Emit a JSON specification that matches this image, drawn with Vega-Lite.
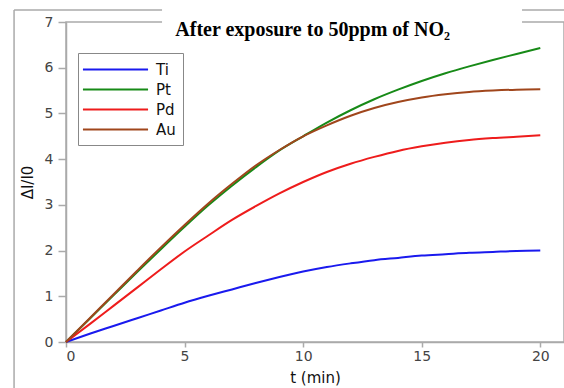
{
  "$schema": "https://vega.github.io/schema/vega-lite/v6.json",
  "width": 498,
  "height": 320,
  "autosize": {"type": "none"},
  "padding": {"left": 66, "top": 22, "right": 0, "bottom": 46},
  "background": "white",
  "config": {
    "view": {"stroke": "#aaaaaa", "strokeWidth": 1.5},
    "axis": {
      "grid": false,
      "domainColor": "#aaaaaa",
      "domainWidth": 1.5,
      "tickColor": "#aaaaaa",
      "tickWidth": 1.5,
      "labelFont": "DejaVu Sans",
      "labelFontSize": 14,
      "labelColor": "#444444",
      "titleFont": "DejaVu Sans",
      "titleFontSize": 15,
      "titleFontWeight": "normal",
      "titleColor": "#111111"
    }
  },
  "layer": [
    {
      "data": {"values": [{}]},
      "mark": {"type": "rule", "color": "#aaaaaa", "strokeWidth": 1.5},
      "encoding": {
        "x": {"datum": -2.19, "type": "quantitative"},
        "y": {"datum": 7.26, "type": "quantitative"},
        "y2": {"datum": -1.1}
      }
    },
    {
      "data": {"values": [{}]},
      "mark": {"type": "rule", "color": "#aaaaaa", "strokeWidth": 1.5},
      "encoding": {
        "x": {"datum": -2.19, "type": "quantitative"},
        "x2": {"datum": 21.2},
        "y": {"datum": 7.26, "type": "quantitative"}
      }
    },
    {
      "data": {"values": [{}]},
      "mark": {"type": "rect", "color": "white"},
      "encoding": {
        "x": {"datum": 4.05, "type": "quantitative"},
        "x2": {"datum": 19.23},
        "y": {"datum": 6.6, "type": "quantitative"},
        "y2": {"datum": 7.7}
      }
    },
    {
      "data": {"values": [{"title": "After exposure to 50ppm of NO₂"}]},
      "mark": {"type": "text", "font": "Liberation Serif", "fontWeight": "bold", "fontSize": 20, "align": "center", "baseline": "alphabetic", "color": "#000000"},
      "encoding": {
        "x": {"datum": 10.4, "type": "quantitative"},
        "y": {"datum": 6.69, "type": "quantitative"},
        "text": {"field": "title"}
      }
    },
    {
      "data": {"values": [
        {"t":0,"s":"Ti","v":0},{"t":1,"s":"Ti","v":0.18},{"t":2,"s":"Ti","v":0.35},{"t":3,"s":"Ti","v":0.52},{"t":4,"s":"Ti","v":0.69},{"t":5,"s":"Ti","v":0.86},{"t":6,"s":"Ti","v":1.01},{"t":7,"s":"Ti","v":1.15},{"t":8,"s":"Ti","v":1.29},{"t":9,"s":"Ti","v":1.42},{"t":10,"s":"Ti","v":1.54},{"t":11,"s":"Ti","v":1.64},{"t":12,"s":"Ti","v":1.72},{"t":13,"s":"Ti","v":1.79},{"t":14,"s":"Ti","v":1.84},{"t":15,"s":"Ti","v":1.89},{"t":16,"s":"Ti","v":1.92},{"t":17,"s":"Ti","v":1.95},{"t":18,"s":"Ti","v":1.97},{"t":19,"s":"Ti","v":1.99},{"t":20,"s":"Ti","v":2.0},
        {"t":0,"s":"Pt","v":0},{"t":1,"s":"Pt","v":0.51},{"t":2,"s":"Pt","v":1.02},{"t":3,"s":"Pt","v":1.53},{"t":4,"s":"Pt","v":2.03},{"t":5,"s":"Pt","v":2.52},{"t":6,"s":"Pt","v":2.99},{"t":7,"s":"Pt","v":3.42},{"t":8,"s":"Pt","v":3.82},{"t":9,"s":"Pt","v":4.19},{"t":10,"s":"Pt","v":4.5},{"t":11,"s":"Pt","v":4.8},{"t":12,"s":"Pt","v":5.07},{"t":13,"s":"Pt","v":5.31},{"t":14,"s":"Pt","v":5.52},{"t":15,"s":"Pt","v":5.71},{"t":16,"s":"Pt","v":5.88},{"t":17,"s":"Pt","v":6.03},{"t":18,"s":"Pt","v":6.17},{"t":19,"s":"Pt","v":6.3},{"t":20,"s":"Pt","v":6.43},
        {"t":0,"s":"Pd","v":0},{"t":1,"s":"Pd","v":0.39},{"t":2,"s":"Pd","v":0.79},{"t":3,"s":"Pd","v":1.19},{"t":4,"s":"Pd","v":1.59},{"t":5,"s":"Pd","v":1.98},{"t":6,"s":"Pd","v":2.33},{"t":7,"s":"Pd","v":2.67},{"t":8,"s":"Pd","v":2.97},{"t":9,"s":"Pd","v":3.25},{"t":10,"s":"Pd","v":3.5},{"t":11,"s":"Pd","v":3.72},{"t":12,"s":"Pd","v":3.9},{"t":13,"s":"Pd","v":4.05},{"t":14,"s":"Pd","v":4.18},{"t":15,"s":"Pd","v":4.28},{"t":16,"s":"Pd","v":4.36},{"t":17,"s":"Pd","v":4.42},{"t":18,"s":"Pd","v":4.46},{"t":19,"s":"Pd","v":4.49},{"t":20,"s":"Pd","v":4.52},
        {"t":0,"s":"Au","v":0},{"t":1,"s":"Au","v":0.52},{"t":2,"s":"Au","v":1.04},{"t":3,"s":"Au","v":1.56},{"t":4,"s":"Au","v":2.07},{"t":5,"s":"Au","v":2.56},{"t":6,"s":"Au","v":3.03},{"t":7,"s":"Au","v":3.46},{"t":8,"s":"Au","v":3.86},{"t":9,"s":"Au","v":4.2},{"t":10,"s":"Au","v":4.5},{"t":11,"s":"Au","v":4.74},{"t":12,"s":"Au","v":4.95},{"t":13,"s":"Au","v":5.12},{"t":14,"s":"Au","v":5.25},{"t":15,"s":"Au","v":5.35},{"t":16,"s":"Au","v":5.42},{"t":17,"s":"Au","v":5.47},{"t":18,"s":"Au","v":5.5},{"t":19,"s":"Au","v":5.52},{"t":20,"s":"Au","v":5.53}
      ]},
      "mark": {"type": "line", "strokeWidth": 2, "interpolate": "monotone"},
      "encoding": {
        "x": {
          "field": "t", "type": "quantitative",
          "scale": {"domain": [0, 21], "nice": false, "zero": false},
          "axis": {"values": [0, 5, 10, 15, 20], "title": "t (min)", "tickSize": 5, "labelPadding": 2, "titlePadding": 7}
        },
        "y": {
          "field": "v", "type": "quantitative",
          "scale": {"domain": [0, 7], "nice": false},
          "axis": {"values": [0, 1, 2, 3, 4, 5, 6, 7], "title": "ΔI/I0", "tickSize": 8, "labelPadding": 5, "titlePadding": 9}
        },
        "color": {
          "field": "s", "type": "nominal",
          "scale": {"domain": ["Ti", "Pt", "Pd", "Au"], "range": ["#1a1aee", "#178a17", "#ee1c1c", "#a0461c"]},
          "legend": {
            "orient": "none", "legendX": 12, "legendY": 31,
            "title": null,
            "symbolType": "M-4,0H4",
            "symbolSize": 265,
            "symbolStrokeWidth": 2,
            "symbolOffset": 21,
            "labelOffset": 31,
            "labelFont": "DejaVu Sans",
            "labelFontSize": 15,
            "labelColor": "#111111",
            "strokeColor": "#888888",
            "fillColor": "white",
            "padding": 7,
            "rowPadding": 2
          }
        },
        "sort": {"field": "t"}
      }
    }
  ]
}
